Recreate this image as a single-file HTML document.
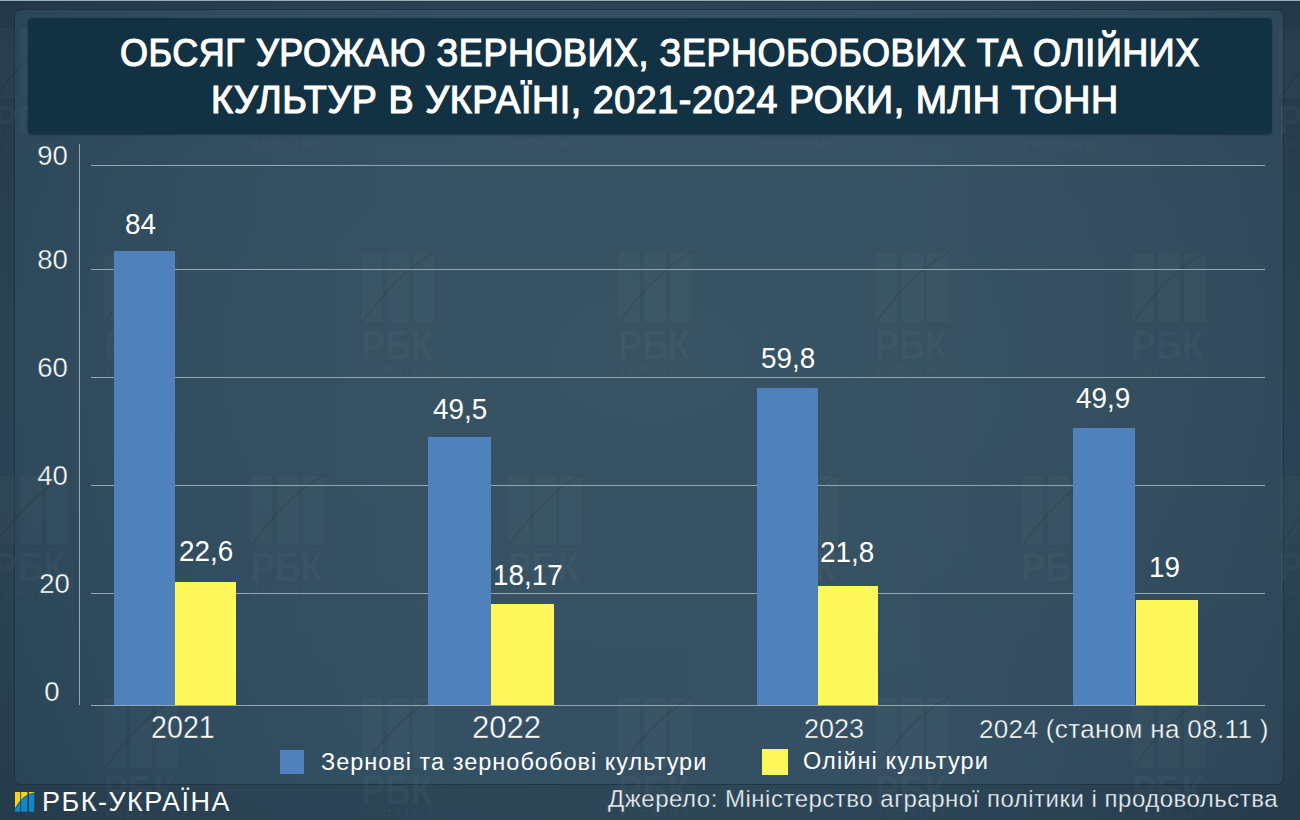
<!DOCTYPE html>
<html><head><meta charset="utf-8">
<style>
*{margin:0;padding:0;box-sizing:border-box}
html,body{width:1300px;height:820px;overflow:hidden}
body{position:relative;background:radial-gradient(farthest-corner at 50% 55%,#33505f 0%,#2d4657 60%,#233849 100%);font-family:"Liberation Sans",sans-serif;color:#fff}
.topline{position:absolute;left:0;top:0;width:1300px;height:1px;background:#a0acb4}
.topdark{position:absolute;left:0;top:1px;width:1300px;height:1px;background:#203a4b}
.panel{position:absolute;left:15px;top:10px;width:1268px;height:774px;border-radius:6px;box-shadow:0 0 0 1px rgba(20,40,56,.5);
 background:radial-gradient(ellipse 70% 75% at 50% 45%,#385363 0%,#38536300 100%),linear-gradient(90deg,#2a4557,#324e62 30%,#344f62 70%,#2d4759);}
.title{position:absolute;left:28px;top:18px;width:1244px;height:116px;border-radius:4px;background:#123143;box-shadow:0 1px 2px rgba(10,30,45,.5);
 text-align:center;font-size:38px;line-height:47px;padding-top:22px;color:#fff;letter-spacing:0}
.t{position:absolute;white-space:nowrap;line-height:1}
.grid{position:absolute;left:91px;width:1174px;height:1px;background:#96a6b3}
.bar{position:absolute}
.vl{font-size:29px;transform:scaleX(0.96);transform-origin:0 0}
.ylab,.lt{-webkit-text-stroke:0.5px rgba(52,79,99,0.85)}
.b{background:#4f81bd}
.y{background:#fef95b}
</style></head><body>
<div class="topline"></div><div class="topdark"></div>
<div class="panel"></div>
<svg style="position:absolute;left:0;top:0" width="1300" height="820">
<g transform="translate(-7.0 27.4)">
<g fill="rgba(255,255,255,0.022)" stroke="rgba(0,0,0,0.035)" stroke-width="1"><rect x="0.5" y="0.5" width="22.3" height="70.5"/><rect x="26.5" y="0.5" width="22.9" height="70.5"/><rect x="52.1" y="0.5" width="22.9" height="70.5"/></g>
<path d="M1.6 70.3 Q42.2 15.4 74.9 0.4" fill="none" stroke="rgba(0,0,0,0.09)" stroke-width="1.6"/>
<text transform="translate(0.5 106.5) scale(0.9 1)" font-family="Liberation Sans" font-weight="700" font-size="40" fill="rgba(255,255,255,0.04)">РБК</text>
<text x="0.5" y="122" font-family="Liberation Sans" font-weight="700" font-size="13" letter-spacing="2.9" fill="rgba(255,255,255,0.03)">УКРАЇНА</text>
</g>
<g transform="translate(250.0 27.4)">
<g fill="rgba(255,255,255,0.022)" stroke="rgba(0,0,0,0.035)" stroke-width="1"><rect x="0.5" y="0.5" width="22.3" height="70.5"/><rect x="26.5" y="0.5" width="22.9" height="70.5"/><rect x="52.1" y="0.5" width="22.9" height="70.5"/></g>
<path d="M1.6 70.3 Q42.2 15.4 74.9 0.4" fill="none" stroke="rgba(0,0,0,0.09)" stroke-width="1.6"/>
<text transform="translate(0.5 106.5) scale(0.9 1)" font-family="Liberation Sans" font-weight="700" font-size="40" fill="rgba(255,255,255,0.04)">РБК</text>
<text x="0.5" y="122" font-family="Liberation Sans" font-weight="700" font-size="13" letter-spacing="2.9" fill="rgba(255,255,255,0.03)">УКРАЇНА</text>
</g>
<g transform="translate(507.0 27.4)">
<g fill="rgba(255,255,255,0.022)" stroke="rgba(0,0,0,0.035)" stroke-width="1"><rect x="0.5" y="0.5" width="22.3" height="70.5"/><rect x="26.5" y="0.5" width="22.9" height="70.5"/><rect x="52.1" y="0.5" width="22.9" height="70.5"/></g>
<path d="M1.6 70.3 Q42.2 15.4 74.9 0.4" fill="none" stroke="rgba(0,0,0,0.09)" stroke-width="1.6"/>
<text transform="translate(0.5 106.5) scale(0.9 1)" font-family="Liberation Sans" font-weight="700" font-size="40" fill="rgba(255,255,255,0.04)">РБК</text>
<text x="0.5" y="122" font-family="Liberation Sans" font-weight="700" font-size="13" letter-spacing="2.9" fill="rgba(255,255,255,0.03)">УКРАЇНА</text>
</g>
<g transform="translate(764.0 27.4)">
<g fill="rgba(255,255,255,0.022)" stroke="rgba(0,0,0,0.035)" stroke-width="1"><rect x="0.5" y="0.5" width="22.3" height="70.5"/><rect x="26.5" y="0.5" width="22.9" height="70.5"/><rect x="52.1" y="0.5" width="22.9" height="70.5"/></g>
<path d="M1.6 70.3 Q42.2 15.4 74.9 0.4" fill="none" stroke="rgba(0,0,0,0.09)" stroke-width="1.6"/>
<text transform="translate(0.5 106.5) scale(0.9 1)" font-family="Liberation Sans" font-weight="700" font-size="40" fill="rgba(255,255,255,0.04)">РБК</text>
<text x="0.5" y="122" font-family="Liberation Sans" font-weight="700" font-size="13" letter-spacing="2.9" fill="rgba(255,255,255,0.03)">УКРАЇНА</text>
</g>
<g transform="translate(1021.0 27.4)">
<g fill="rgba(255,255,255,0.022)" stroke="rgba(0,0,0,0.035)" stroke-width="1"><rect x="0.5" y="0.5" width="22.3" height="70.5"/><rect x="26.5" y="0.5" width="22.9" height="70.5"/><rect x="52.1" y="0.5" width="22.9" height="70.5"/></g>
<path d="M1.6 70.3 Q42.2 15.4 74.9 0.4" fill="none" stroke="rgba(0,0,0,0.09)" stroke-width="1.6"/>
<text transform="translate(0.5 106.5) scale(0.9 1)" font-family="Liberation Sans" font-weight="700" font-size="40" fill="rgba(255,255,255,0.04)">РБК</text>
<text x="0.5" y="122" font-family="Liberation Sans" font-weight="700" font-size="13" letter-spacing="2.9" fill="rgba(255,255,255,0.03)">УКРАЇНА</text>
</g>
<g transform="translate(1278.0 27.4)">
<g fill="rgba(255,255,255,0.022)" stroke="rgba(0,0,0,0.035)" stroke-width="1"><rect x="0.5" y="0.5" width="22.3" height="70.5"/><rect x="26.5" y="0.5" width="22.9" height="70.5"/><rect x="52.1" y="0.5" width="22.9" height="70.5"/></g>
<path d="M1.6 70.3 Q42.2 15.4 74.9 0.4" fill="none" stroke="rgba(0,0,0,0.09)" stroke-width="1.6"/>
<text transform="translate(0.5 106.5) scale(0.9 1)" font-family="Liberation Sans" font-weight="700" font-size="40" fill="rgba(255,255,255,0.04)">РБК</text>
<text x="0.5" y="122" font-family="Liberation Sans" font-weight="700" font-size="13" letter-spacing="2.9" fill="rgba(255,255,255,0.03)">УКРАЇНА</text>
</g>
<g transform="translate(103.4 252.0)">
<g fill="rgba(255,255,255,0.022)" stroke="rgba(0,0,0,0.035)" stroke-width="1"><rect x="0.5" y="0.5" width="22.3" height="70.5"/><rect x="26.5" y="0.5" width="22.9" height="70.5"/><rect x="52.1" y="0.5" width="22.9" height="70.5"/></g>
<path d="M1.6 70.3 Q42.2 15.4 74.9 0.4" fill="none" stroke="rgba(0,0,0,0.09)" stroke-width="1.6"/>
<text transform="translate(0.5 106.5) scale(0.9 1)" font-family="Liberation Sans" font-weight="700" font-size="40" fill="rgba(255,255,255,0.04)">РБК</text>
<text x="0.5" y="122" font-family="Liberation Sans" font-weight="700" font-size="13" letter-spacing="2.9" fill="rgba(255,255,255,0.03)">УКРАЇНА</text>
</g>
<g transform="translate(360.4 252.0)">
<g fill="rgba(255,255,255,0.022)" stroke="rgba(0,0,0,0.035)" stroke-width="1"><rect x="0.5" y="0.5" width="22.3" height="70.5"/><rect x="26.5" y="0.5" width="22.9" height="70.5"/><rect x="52.1" y="0.5" width="22.9" height="70.5"/></g>
<path d="M1.6 70.3 Q42.2 15.4 74.9 0.4" fill="none" stroke="rgba(0,0,0,0.09)" stroke-width="1.6"/>
<text transform="translate(0.5 106.5) scale(0.9 1)" font-family="Liberation Sans" font-weight="700" font-size="40" fill="rgba(255,255,255,0.04)">РБК</text>
<text x="0.5" y="122" font-family="Liberation Sans" font-weight="700" font-size="13" letter-spacing="2.9" fill="rgba(255,255,255,0.03)">УКРАЇНА</text>
</g>
<g transform="translate(617.4 252.0)">
<g fill="rgba(255,255,255,0.022)" stroke="rgba(0,0,0,0.035)" stroke-width="1"><rect x="0.5" y="0.5" width="22.3" height="70.5"/><rect x="26.5" y="0.5" width="22.9" height="70.5"/><rect x="52.1" y="0.5" width="22.9" height="70.5"/></g>
<path d="M1.6 70.3 Q42.2 15.4 74.9 0.4" fill="none" stroke="rgba(0,0,0,0.09)" stroke-width="1.6"/>
<text transform="translate(0.5 106.5) scale(0.9 1)" font-family="Liberation Sans" font-weight="700" font-size="40" fill="rgba(255,255,255,0.04)">РБК</text>
<text x="0.5" y="122" font-family="Liberation Sans" font-weight="700" font-size="13" letter-spacing="2.9" fill="rgba(255,255,255,0.03)">УКРАЇНА</text>
</g>
<g transform="translate(874.4 252.0)">
<g fill="rgba(255,255,255,0.022)" stroke="rgba(0,0,0,0.035)" stroke-width="1"><rect x="0.5" y="0.5" width="22.3" height="70.5"/><rect x="26.5" y="0.5" width="22.9" height="70.5"/><rect x="52.1" y="0.5" width="22.9" height="70.5"/></g>
<path d="M1.6 70.3 Q42.2 15.4 74.9 0.4" fill="none" stroke="rgba(0,0,0,0.09)" stroke-width="1.6"/>
<text transform="translate(0.5 106.5) scale(0.9 1)" font-family="Liberation Sans" font-weight="700" font-size="40" fill="rgba(255,255,255,0.04)">РБК</text>
<text x="0.5" y="122" font-family="Liberation Sans" font-weight="700" font-size="13" letter-spacing="2.9" fill="rgba(255,255,255,0.03)">УКРАЇНА</text>
</g>
<g transform="translate(1131.4 252.0)">
<g fill="rgba(255,255,255,0.022)" stroke="rgba(0,0,0,0.035)" stroke-width="1"><rect x="0.5" y="0.5" width="22.3" height="70.5"/><rect x="26.5" y="0.5" width="22.9" height="70.5"/><rect x="52.1" y="0.5" width="22.9" height="70.5"/></g>
<path d="M1.6 70.3 Q42.2 15.4 74.9 0.4" fill="none" stroke="rgba(0,0,0,0.09)" stroke-width="1.6"/>
<text transform="translate(0.5 106.5) scale(0.9 1)" font-family="Liberation Sans" font-weight="700" font-size="40" fill="rgba(255,255,255,0.04)">РБК</text>
<text x="0.5" y="122" font-family="Liberation Sans" font-weight="700" font-size="13" letter-spacing="2.9" fill="rgba(255,255,255,0.03)">УКРАЇНА</text>
</g>
<g transform="translate(-7.0 474.7)">
<g fill="rgba(255,255,255,0.022)" stroke="rgba(0,0,0,0.035)" stroke-width="1"><rect x="0.5" y="0.5" width="22.3" height="70.5"/><rect x="26.5" y="0.5" width="22.9" height="70.5"/><rect x="52.1" y="0.5" width="22.9" height="70.5"/></g>
<path d="M1.6 70.3 Q42.2 15.4 74.9 0.4" fill="none" stroke="rgba(0,0,0,0.09)" stroke-width="1.6"/>
<text transform="translate(0.5 106.5) scale(0.9 1)" font-family="Liberation Sans" font-weight="700" font-size="40" fill="rgba(255,255,255,0.04)">РБК</text>
<text x="0.5" y="122" font-family="Liberation Sans" font-weight="700" font-size="13" letter-spacing="2.9" fill="rgba(255,255,255,0.03)">УКРАЇНА</text>
</g>
<g transform="translate(250.0 474.7)">
<g fill="rgba(255,255,255,0.022)" stroke="rgba(0,0,0,0.035)" stroke-width="1"><rect x="0.5" y="0.5" width="22.3" height="70.5"/><rect x="26.5" y="0.5" width="22.9" height="70.5"/><rect x="52.1" y="0.5" width="22.9" height="70.5"/></g>
<path d="M1.6 70.3 Q42.2 15.4 74.9 0.4" fill="none" stroke="rgba(0,0,0,0.09)" stroke-width="1.6"/>
<text transform="translate(0.5 106.5) scale(0.9 1)" font-family="Liberation Sans" font-weight="700" font-size="40" fill="rgba(255,255,255,0.04)">РБК</text>
<text x="0.5" y="122" font-family="Liberation Sans" font-weight="700" font-size="13" letter-spacing="2.9" fill="rgba(255,255,255,0.03)">УКРАЇНА</text>
</g>
<g transform="translate(507.0 474.7)">
<g fill="rgba(255,255,255,0.022)" stroke="rgba(0,0,0,0.035)" stroke-width="1"><rect x="0.5" y="0.5" width="22.3" height="70.5"/><rect x="26.5" y="0.5" width="22.9" height="70.5"/><rect x="52.1" y="0.5" width="22.9" height="70.5"/></g>
<path d="M1.6 70.3 Q42.2 15.4 74.9 0.4" fill="none" stroke="rgba(0,0,0,0.09)" stroke-width="1.6"/>
<text transform="translate(0.5 106.5) scale(0.9 1)" font-family="Liberation Sans" font-weight="700" font-size="40" fill="rgba(255,255,255,0.04)">РБК</text>
<text x="0.5" y="122" font-family="Liberation Sans" font-weight="700" font-size="13" letter-spacing="2.9" fill="rgba(255,255,255,0.03)">УКРАЇНА</text>
</g>
<g transform="translate(764.0 474.7)">
<g fill="rgba(255,255,255,0.022)" stroke="rgba(0,0,0,0.035)" stroke-width="1"><rect x="0.5" y="0.5" width="22.3" height="70.5"/><rect x="26.5" y="0.5" width="22.9" height="70.5"/><rect x="52.1" y="0.5" width="22.9" height="70.5"/></g>
<path d="M1.6 70.3 Q42.2 15.4 74.9 0.4" fill="none" stroke="rgba(0,0,0,0.09)" stroke-width="1.6"/>
<text transform="translate(0.5 106.5) scale(0.9 1)" font-family="Liberation Sans" font-weight="700" font-size="40" fill="rgba(255,255,255,0.04)">РБК</text>
<text x="0.5" y="122" font-family="Liberation Sans" font-weight="700" font-size="13" letter-spacing="2.9" fill="rgba(255,255,255,0.03)">УКРАЇНА</text>
</g>
<g transform="translate(1021.0 474.7)">
<g fill="rgba(255,255,255,0.022)" stroke="rgba(0,0,0,0.035)" stroke-width="1"><rect x="0.5" y="0.5" width="22.3" height="70.5"/><rect x="26.5" y="0.5" width="22.9" height="70.5"/><rect x="52.1" y="0.5" width="22.9" height="70.5"/></g>
<path d="M1.6 70.3 Q42.2 15.4 74.9 0.4" fill="none" stroke="rgba(0,0,0,0.09)" stroke-width="1.6"/>
<text transform="translate(0.5 106.5) scale(0.9 1)" font-family="Liberation Sans" font-weight="700" font-size="40" fill="rgba(255,255,255,0.04)">РБК</text>
<text x="0.5" y="122" font-family="Liberation Sans" font-weight="700" font-size="13" letter-spacing="2.9" fill="rgba(255,255,255,0.03)">УКРАЇНА</text>
</g>
<g transform="translate(1278.0 474.7)">
<g fill="rgba(255,255,255,0.022)" stroke="rgba(0,0,0,0.035)" stroke-width="1"><rect x="0.5" y="0.5" width="22.3" height="70.5"/><rect x="26.5" y="0.5" width="22.9" height="70.5"/><rect x="52.1" y="0.5" width="22.9" height="70.5"/></g>
<path d="M1.6 70.3 Q42.2 15.4 74.9 0.4" fill="none" stroke="rgba(0,0,0,0.09)" stroke-width="1.6"/>
<text transform="translate(0.5 106.5) scale(0.9 1)" font-family="Liberation Sans" font-weight="700" font-size="40" fill="rgba(255,255,255,0.04)">РБК</text>
<text x="0.5" y="122" font-family="Liberation Sans" font-weight="700" font-size="13" letter-spacing="2.9" fill="rgba(255,255,255,0.03)">УКРАЇНА</text>
</g>
<g transform="translate(103.4 697.4)">
<g fill="rgba(255,255,255,0.022)" stroke="rgba(0,0,0,0.035)" stroke-width="1"><rect x="0.5" y="0.5" width="22.3" height="70.5"/><rect x="26.5" y="0.5" width="22.9" height="70.5"/><rect x="52.1" y="0.5" width="22.9" height="70.5"/></g>
<path d="M1.6 70.3 Q42.2 15.4 74.9 0.4" fill="none" stroke="rgba(0,0,0,0.09)" stroke-width="1.6"/>
<text transform="translate(0.5 106.5) scale(0.9 1)" font-family="Liberation Sans" font-weight="700" font-size="40" fill="rgba(255,255,255,0.04)">РБК</text>
<text x="0.5" y="122" font-family="Liberation Sans" font-weight="700" font-size="13" letter-spacing="2.9" fill="rgba(255,255,255,0.03)">УКРАЇНА</text>
</g>
<g transform="translate(360.4 697.4)">
<g fill="rgba(255,255,255,0.022)" stroke="rgba(0,0,0,0.035)" stroke-width="1"><rect x="0.5" y="0.5" width="22.3" height="70.5"/><rect x="26.5" y="0.5" width="22.9" height="70.5"/><rect x="52.1" y="0.5" width="22.9" height="70.5"/></g>
<path d="M1.6 70.3 Q42.2 15.4 74.9 0.4" fill="none" stroke="rgba(0,0,0,0.09)" stroke-width="1.6"/>
<text transform="translate(0.5 106.5) scale(0.9 1)" font-family="Liberation Sans" font-weight="700" font-size="40" fill="rgba(255,255,255,0.04)">РБК</text>
<text x="0.5" y="122" font-family="Liberation Sans" font-weight="700" font-size="13" letter-spacing="2.9" fill="rgba(255,255,255,0.03)">УКРАЇНА</text>
</g>
<g transform="translate(617.4 697.4)">
<g fill="rgba(255,255,255,0.022)" stroke="rgba(0,0,0,0.035)" stroke-width="1"><rect x="0.5" y="0.5" width="22.3" height="70.5"/><rect x="26.5" y="0.5" width="22.9" height="70.5"/><rect x="52.1" y="0.5" width="22.9" height="70.5"/></g>
<path d="M1.6 70.3 Q42.2 15.4 74.9 0.4" fill="none" stroke="rgba(0,0,0,0.09)" stroke-width="1.6"/>
<text transform="translate(0.5 106.5) scale(0.9 1)" font-family="Liberation Sans" font-weight="700" font-size="40" fill="rgba(255,255,255,0.04)">РБК</text>
<text x="0.5" y="122" font-family="Liberation Sans" font-weight="700" font-size="13" letter-spacing="2.9" fill="rgba(255,255,255,0.03)">УКРАЇНА</text>
</g>
<g transform="translate(874.4 697.4)">
<g fill="rgba(255,255,255,0.022)" stroke="rgba(0,0,0,0.035)" stroke-width="1"><rect x="0.5" y="0.5" width="22.3" height="70.5"/><rect x="26.5" y="0.5" width="22.9" height="70.5"/><rect x="52.1" y="0.5" width="22.9" height="70.5"/></g>
<path d="M1.6 70.3 Q42.2 15.4 74.9 0.4" fill="none" stroke="rgba(0,0,0,0.09)" stroke-width="1.6"/>
<text transform="translate(0.5 106.5) scale(0.9 1)" font-family="Liberation Sans" font-weight="700" font-size="40" fill="rgba(255,255,255,0.04)">РБК</text>
<text x="0.5" y="122" font-family="Liberation Sans" font-weight="700" font-size="13" letter-spacing="2.9" fill="rgba(255,255,255,0.03)">УКРАЇНА</text>
</g>
<g transform="translate(1131.4 697.4)">
<g fill="rgba(255,255,255,0.022)" stroke="rgba(0,0,0,0.035)" stroke-width="1"><rect x="0.5" y="0.5" width="22.3" height="70.5"/><rect x="26.5" y="0.5" width="22.9" height="70.5"/><rect x="52.1" y="0.5" width="22.9" height="70.5"/></g>
<path d="M1.6 70.3 Q42.2 15.4 74.9 0.4" fill="none" stroke="rgba(0,0,0,0.09)" stroke-width="1.6"/>
<text transform="translate(0.5 106.5) scale(0.9 1)" font-family="Liberation Sans" font-weight="700" font-size="40" fill="rgba(255,255,255,0.04)">РБК</text>
<text x="0.5" y="122" font-family="Liberation Sans" font-weight="700" font-size="13" letter-spacing="2.9" fill="rgba(255,255,255,0.03)">УКРАЇНА</text>
</g>
</svg>
<div class="title"></div>
<div class="t" style="left:120px;top:34px;font-size:38px;font-weight:400;-webkit-text-stroke:1.2px #fff;letter-spacing:0.6px;transform:scaleX(0.946);transform-origin:0 0">ОБСЯГ УРОЖАЮ ЗЕРНОВИХ, ЗЕРНОБОБОВИХ ТА ОЛІЙНИХ</div>
<div class="t" style="left:211px;top:81px;font-size:38px;font-weight:400;-webkit-text-stroke:1.2px #fff;letter-spacing:0.6px;transform:scaleX(0.9888);transform-origin:0 0">КУЛЬТУР В УКРАЇНІ, 2021-2024 РОКИ, МЛН ТОНН</div>

<!-- axis -->
<div style="position:absolute;left:79px;top:144px;width:1px;height:561px;background:#96a6b3"></div>
<div class="grid" style="top:165px"></div>
<div class="grid" style="top:269px"></div>
<div class="grid" style="top:377px"></div>
<div class="grid" style="top:485px"></div>
<div class="grid" style="top:593px"></div>
<div class="grid" style="top:705px"></div>

<!-- bars -->
<div class="bar b" style="left:114px;top:251px;width:61px;height:454px"></div>
<div class="bar y" style="left:175px;top:582px;width:61px;height:123px"></div>
<div class="bar b" style="left:428px;top:437px;width:63px;height:268px"></div>
<div class="bar y" style="left:491px;top:604px;width:63px;height:101px"></div>
<div class="bar b" style="left:757px;top:388px;width:61px;height:317px"></div>
<div class="bar y" style="left:818px;top:586px;width:60px;height:119px"></div>
<div class="bar b" style="left:1073px;top:428px;width:62px;height:277px"></div>
<div class="bar y" style="left:1136px;top:600px;width:62px;height:105px"></div>

<!-- y labels -->
<div class="t ylab" style="left:37.3px;top:142.1px;font-size:27.5px">90</div>
<div class="t ylab" style="left:37.3px;top:246.1px;font-size:27.5px">80</div>
<div class="t ylab" style="left:37.3px;top:354.0px;font-size:27.5px">60</div>
<div class="t ylab" style="left:37.3px;top:462.0px;font-size:27.5px">40</div>
<div class="t ylab" style="left:39.3px;top:570.0px;font-size:27.5px">20</div>
<div class="t ylab" style="left:44.3px;top:678.1px;font-size:27.5px">0</div>

<!-- value labels -->
<div class="t vl" style="left:125.4px;top:209.5px">84</div>
<div class="t vl" style="left:179.2px;top:536.6px">22,6</div>
<div class="t vl" style="left:432.7px;top:394.9px">49,5</div>
<div class="t vl" style="left:492.7px;top:561.0px">18,17</div>
<div class="t vl" style="left:760.6px;top:343.6px">59,8</div>
<div class="t vl" style="left:820.2px;top:537.8px">21,8</div>
<div class="t vl" style="left:1076.2px;top:383.8px">49,9</div>
<div class="t vl" style="left:1149.2px;top:552.5px">19</div>

<!-- x labels -->
<div class="t lt" style="left:150.7px;top:712px;font-size:31px;transform:scaleX(0.925);transform-origin:0 0">2021</div>
<div class="t lt" style="left:472px;top:712px;font-size:31px">2022</div>
<div class="t lt" style="left:804px;top:716px;font-size:27px">2023</div>
<div class="t lt" style="left:979px;top:716px;font-size:26px;letter-spacing:0.35px">2024 (станом на 08.11 )</div>

<!-- legend -->
<div class="bar b" style="left:280px;top:750px;width:24px;height:24px"></div>
<div class="t" style="left:321px;top:750.5px;font-size:23.5px;letter-spacing:1px">Зернові та зернобобові культури</div>
<div class="bar y" style="left:762px;top:749px;width:26px;height:26px"></div>
<div class="t" style="left:803px;top:749.5px;font-size:23.5px;letter-spacing:1.1px">Олійні культури</div>

<!-- footer -->
<svg style="position:absolute;left:14.8px;top:792px" width="20" height="20" viewBox="0 0 20 20">
<defs><clipPath id="bars"><rect x="0" y="0" width="5.2" height="19.8"/><rect x="6.2" y="0" width="6.2" height="19.8"/><rect x="14" y="0" width="5.3" height="19.8"/></clipPath></defs>
<g fill="#0b89c9"><rect x="0" y="0" width="5.2" height="19.8"/><rect x="6.2" y="0" width="6.2" height="19.8"/><rect x="14" y="0" width="5.3" height="19.8"/></g>
<g clip-path="url(#bars)">
<path d="M0 16.7 C2.55 13.94 6.05 3.25 19.2 1.1 L20 0 L0 0 Z" fill="#fcd21e"/>
<path d="M0 16.7 C2.55 13.94 6.05 3.25 19.2 1.1" fill="none" stroke="#1d3345" stroke-width="0.7"/>
</g></svg>
<div class="t" style="left:42px;top:788.5px;font-size:27px;letter-spacing:1.5px">РБК-УКРАЇНА</div>
<div class="t" style="left:608px;top:787px;font-size:24px;letter-spacing:0.5px;color:#eef2f5;-webkit-text-stroke:0.4px rgba(44,68,85,0.8)">Джерело: Міністерство аграрної політики і продовольства</div>
</body></html>
